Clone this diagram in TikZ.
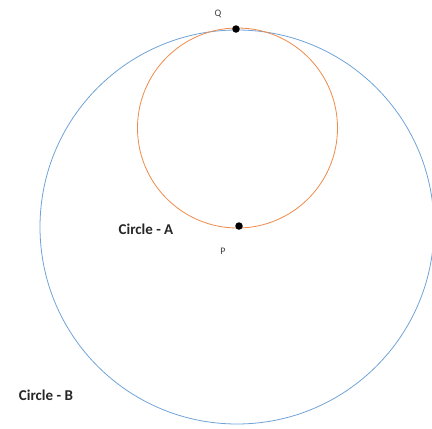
\documentclass[tikz,border=0pt]{standalone}
\usepackage{fontspec}
\setmainfont{Carlito}
\usepackage{tikz}
\usetikzlibrary{positioning}
\definecolor{daireMavi}{HTML}{6FA3D8}
\definecolor{daireTuruncu}{HTML}{EE8A4A}
\definecolor{yaziGri}{HTML}{404040}

\begin{document}
\begin{tikzpicture}[x=1pt, y=-1pt, every node/.style={font=\fontsize{13}{15}\selectfont},
  nokta/.style={circle, fill=black, inner sep=0pt, minimum size=7.5pt},
  etiket/.style={font=\fontsize{15}{17}\selectfont\bfseries, text=black!85},
  harf/.style={font=\fontsize{10}{12}\selectfont, text=yaziGri}]
\useasboundingbox (0,0) rectangle (432,429);
% circles
\draw[daireMavi, line width=0.8pt] (237,227) circle (197);
\draw[daireTuruncu, line width=0.8pt] (237.5,128) circle (100);
% points
\node[nokta] (q) at (236,29) {};
\node[nokta] (p) at (239,226) {};
\node[harf] (qlbl) at (218,14) {Q};
\node[harf] (plbl) at (223,251) {P};
% labels
\node[etiket] (ca) at (146,229) {Circle - A};
\node[etiket] (cb) at (46,395) {Circle - B};
\end{tikzpicture}
\end{document}
